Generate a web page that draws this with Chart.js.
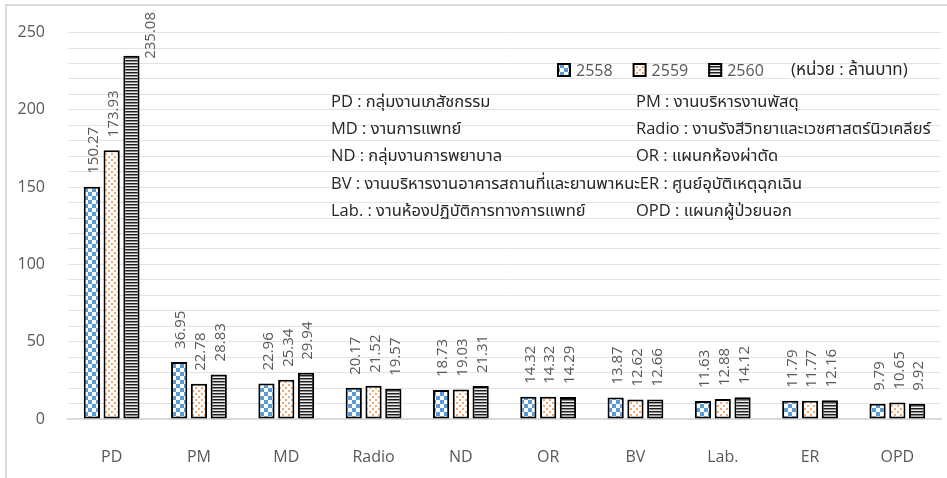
<!DOCTYPE html>
<html>
<head>
<meta charset="utf-8">
<script src="https://cdn.jsdelivr.net/npm/chart.js@4/dist/chart.umd.min.js"></script>
<style>
  html, body { margin: 0; padding: 0; background: #fff; }
  #wrap { width: 947px; height: 478px; position: relative; }
</style>
</head>
<body>
<div id="wrap"><canvas id="c" width="947" height="478"></canvas></div>
<script>
// Departments (abbreviations) along the x axis
const categories = ['PD', 'PM', 'MD', 'Radio', 'ND', 'OR', 'BV', 'Lab.', 'ER', 'OPD'];

// Budget per fiscal year, million baht
const values2558 = [150.27, 36.95, 22.96, 20.17, 18.73, 14.32, 13.87, 11.63, 11.79, 9.79];
const values2559 = [173.93, 22.78, 25.34, 21.52, 19.03, 14.32, 12.62, 12.88, 11.77, 10.65];
const values2560 = [235.08, 28.83, 29.94, 19.57, 21.31, 14.29, 12.66, 14.12, 12.16, 9.92];

const yearLabels = ['2558', '2559', '2560'];
const unitText = '(หน่วย : ล้านบาท)';

// Key to the department abbreviations, two columns
const keyLeft = [
  'PD : กลุ่มงานเภสัชกรรม',
  'MD : งานการแพทย์',
  'ND : กลุ่มงานการพยาบาล',
  'BV : งานบริหารงานอาคารสถานที่และยานพาหนะER : ศูนย์อุบัติเหตุฉุกเฉิน',
  'Lab. : งานห้องปฏิบัติการทางการแพทย์'
];
const keyRight = [
  'PM : งานบริหารงานพัสดุ',
  'Radio : งานรังสีวิทยาและเวชศาสตร์นิวเคลียร์',
  'OR : แผนกห้องผ่าตัด',
  '',
  'OPD : แผนกผู้ป่วยนอก'
];

const FONT = '"Open Sans", "Noto Sans", "Noto Sans Thai", sans-serif';
Chart.defaults.font.family = FONT;
Chart.defaults.color = '#595959';

// Fill patterns
function makePattern(w, h, draw) {
  const t = document.createElement('canvas');
  t.width = w; t.height = h;
  const g = t.getContext('2d');
  draw(g);
  return document.getElementById('c').getContext('2d').createPattern(t, 'repeat');
}
const checkerFill = makePattern(8, 8, g => {
  g.fillStyle = '#ffffff'; g.fillRect(0, 0, 8, 8);
  g.fillStyle = '#5b9bd5';
  g.fillRect(0, 0, 4, 4); g.fillRect(4, 4, 4, 4);
});
const dotFill = makePattern(6, 6, g => {
  g.fillStyle = '#ffffff'; g.fillRect(0, 0, 6, 6);
  g.fillStyle = '#f4a66f';
  g.fillRect(0, 0, 2, 2); g.fillRect(3, 3, 2, 2);
});
const stripeFill = makePattern(4, 3, g => {
  g.fillStyle = '#1e1e1e'; g.fillRect(0, 0, 4, 1);
  g.fillStyle = '#8c8c8c'; g.fillRect(0, 1, 4, 1);
  g.fillStyle = '#ececec'; g.fillRect(0, 2, 4, 1);
});

// Chart frame (top and left edges)
const framePlugin = {
  id: 'frame',
  beforeDraw(chart) {
    const ctx = chart.ctx;
    ctx.save();
    ctx.strokeStyle = '#d9d9d9';
    ctx.lineWidth = 2;
    ctx.beginPath();
    ctx.moveTo(6, chart.height);
    ctx.lineTo(6, 5);
    ctx.lineTo(chart.width, 5);
    ctx.stroke();
    ctx.restore();
  }
};

// Rotated value labels above each bar
const valueLabelPlugin = {
  id: 'valueLabels',
  afterDatasetsDraw(chart) {
    const ctx = chart.ctx;
    const minTop = 12;
    ctx.save();
    ctx.font = '15px ' + FONT;
    ctx.fillStyle = '#595959';
    ctx.textAlign = 'left';
    ctx.textBaseline = 'middle';
    chart.data.datasets.forEach((ds, i) => {
      chart.getDatasetMeta(i).data.forEach((bar, j) => {
        const text = ds.data[j].toFixed(2);
        const w = ctx.measureText(text).width;
        let x = bar.x + 2;
        let y = bar.y - 13;
        if (y - w < minTop) {
          // no room above: set the label beside the bar
          x = bar.x + bar.width / 2 + 11;
          y = minTop + w;
        }
        ctx.save();
        ctx.translate(x, y);
        ctx.rotate(-Math.PI / 2);
        ctx.fillText(text, 0, 0);
        ctx.restore();
      });
    });
    ctx.restore();
  }
};

// Legend, unit note and abbreviation key
const notesPlugin = {
  id: 'notes',
  afterDraw(chart) {
    const ctx = chart.ctx;
    ctx.save();
    ctx.textBaseline = 'middle';
    ctx.textAlign = 'left';
    // legend
    ctx.font = '16px ' + FONT;
    let x = 557;
    const ly = 70;
    chart.data.datasets.forEach(ds => {
      ctx.fillStyle = ds.backgroundColor;
      ctx.fillRect(x, ly - 7, 14, 14);
      ctx.strokeStyle = '#000';
      ctx.lineWidth = 2;
      ctx.strokeRect(x + 1, ly - 6, 12, 12);
      ctx.fillStyle = '#595959';
      ctx.fillText(ds.label, x + 19, ly + 1);
      x += 19 + ctx.measureText(ds.label).width + 20;
    });
    ctx.fillStyle = '#262626';
    ctx.font = '17px ' + FONT;
    ctx.fillText(unitText, 791, ly);
    // key
    ctx.fillStyle = '#262626';
    ctx.font = '16.5px ' + FONT;
    const rowY = [102, 129, 156, 184, 211];
    keyLeft.forEach((t, k) => ctx.fillText(t, 331, rowY[k]));
    keyRight.forEach((t, k) => { if (t) ctx.fillText(t, 636, rowY[k]); });
    ctx.restore();
  }
};

const dsCommon = {
  borderColor: '#000000',
  borderWidth: 2,
  borderSkipped: false,
  categoryPercentage: 0.68,
  barPercentage: 0.82
};

new Chart(document.getElementById('c'), {
  type: 'bar',
  data: {
    labels: categories,
    datasets: [
      Object.assign({ label: yearLabels[0], data: values2558, backgroundColor: checkerFill }, dsCommon),
      Object.assign({ label: yearLabels[1], data: values2559, backgroundColor: dotFill }, dsCommon),
      Object.assign({ label: yearLabels[2], data: values2560, backgroundColor: stripeFill }, dsCommon)
    ]
  },
  options: {
    responsive: false,
    animation: false,
    devicePixelRatio: 1,
    layout: { padding: { top: 28, right: 6, bottom: 0, left: 0 } },
    plugins: {
      legend: { display: false },
      tooltip: { enabled: false }
    },
    scales: {
      x: {
        grid: { display: false, drawTicks: false },
        border: { display: true, color: '#d9d9d9', width: 2 },
        ticks: { font: { size: 16 }, color: '#595959', padding: 29 },
        afterFit(scale) { scale.height = 59; }
      },
      y: {
        min: 0,
        max: 250,
        grid: { color: '#e3e3e3', lineWidth: 1, drawTicks: false },
        border: { display: false },
        ticks: {
          stepSize: 10,
          autoSkip: false,
          padding: 23,
          font: { size: 16 },
          color: '#595959',
          callback: v => (v % 50 === 0 ? v : '')
        },
        afterFit(scale) { scale.width = 68; }
      }
    }
  },
  plugins: [framePlugin, valueLabelPlugin, notesPlugin]
});
</script>
</body>
</html>
